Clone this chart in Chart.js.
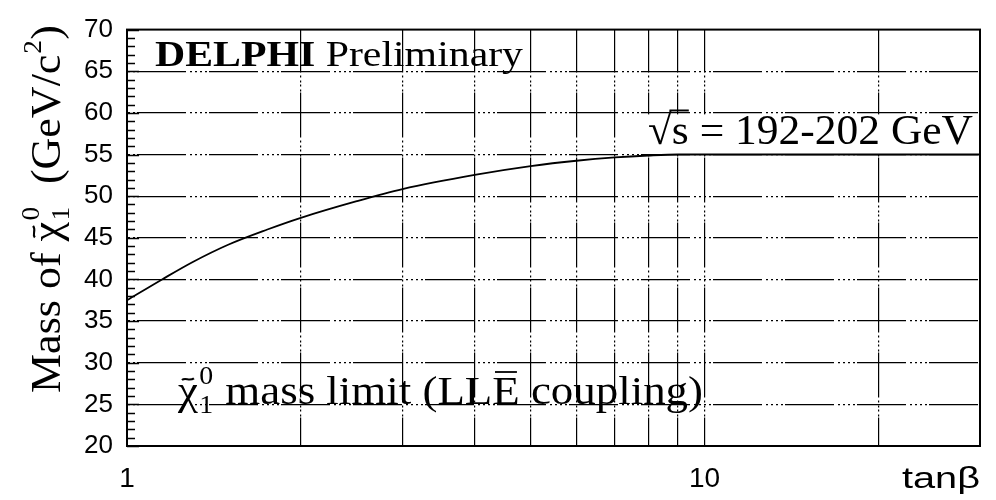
<!DOCTYPE html>
<html>
<head>
<meta charset="utf-8">
<script src="https://cdn.jsdelivr.net/npm/chart.js@4/dist/chart.umd.min.js"></script>
<style>
  html, body { margin: 0; padding: 0; background: #fff; }
  #wrap { width: 996px; height: 500px; }
</style>
</head>
<body>
<div id="wrap"><canvas id="c" width="996" height="500"></canvas></div>
<script>
// Lower mass limit of the lightest neutralino versus tan(beta)
const tanBeta   = [1, 1.15, 1.3, 1.5, 1.75, 2, 2.5, 3, 4, 5, 6, 7, 8, 9, 10, 20, 30];
const massLimit = [37.5, 40.0, 42.1, 44.2, 46.0, 47.4, 49.4, 50.85, 52.55, 53.6, 54.25, 54.65, 54.88, 55, 55, 55, 55];

// Axis ticks
const xTickValues = [1, 2, 3, 4, 5, 6, 7, 8, 9, 10, 20, 30];
const xTickLabels = ['1', '', '', '', '', '', '', '', '', '10', '', ''];
const yRange = [20, 70];
const yMajorStep = 5;
const yMinorStep = 1;

const SERIF = '"Liberation Serif", "Times New Roman", serif';
const SANS = '"Liberation Sans", Arial, sans-serif';

// dash-dot-dot-dot grid style
const H_DASH = [49, 4, 2, 3, 2, 3, 2, 3, 2, 2];
const V_DASH = [45, 3, 2, 3, 2, 2, 2, 3, 2, 1];

const CLEAR = 'rgba(0,0,0,0)';

// ---- small rich-text helper (sub/superscripts, tilde, bars, root) ----
function font(size, bold) { return (bold ? 'bold ' : '') + size + 'px ' + SERIF; }

function pieceWidth(ctx, p, size) {
  if (p.chi) {
    ctx.font = font(size);
    const wc = ctx.measureText('\u03c7').width;
    ctx.font = font(size * 0.62);
    const ws = Math.max(ctx.measureText(p.sup).width, ctx.measureText(p.sub).width);
    return wc + ws + size * 0.05;
  }
  if (p.sup) {
    ctx.font = font(size * 0.62);
    return ctx.measureText(p.sup).width + size * 0.03;
  }
  if (p.root) {
    ctx.font = font(size);
    return ctx.measureText('\u221a').width + ctx.measureText(p.root).width;
  }
  ctx.font = font(size, p.bold);
  return ctx.measureText(p.t).width;
}

function drawPiece(ctx, p, x, y, size) {
  ctx.textBaseline = 'alphabetic';
  ctx.textAlign = 'left';
  if (p.chi) {
    ctx.font = font(size);
    const wc = ctx.measureText('\u03c7').width;
    ctx.fillText('\u03c7', x, y);
    // tilde above chi
    ctx.save();
    ctx.lineWidth = size * 0.05;
    ctx.beginPath();
    const tx = x + wc * 0.2, tw = wc * 0.6, ty = y - size * 0.62;
    ctx.moveTo(tx, ty + size * 0.02);
    ctx.bezierCurveTo(tx + tw * 0.3, ty - size * 0.05, tx + tw * 0.6, ty + size * 0.06, tx + tw, ty - size * 0.02);
    ctx.stroke();
    ctx.restore();
    ctx.font = font(size * 0.62);
    ctx.fillText(p.sup, x + wc + size * 0.03, y - size * 0.5);
    ctx.fillText(p.sub, x + wc + size * 0.03, y + size * 0.22);
    return;
  }
  if (p.sup) {
    ctx.font = font(size * 0.62);
    ctx.fillText(p.sup, x + size * 0.02, y - size * 0.45);
    return;
  }
  if (p.root) {
    ctx.font = font(size);
    const wr = ctx.measureText('\u221a').width;
    const ws = ctx.measureText(p.root).width;
    ctx.fillText('\u221a', x, y);
    ctx.fillText(p.root, x + wr, y);
    ctx.save();
    ctx.lineWidth = size * 0.045;
    ctx.beginPath();
    ctx.moveTo(x + wr * 0.9, y - size * 0.78);
    ctx.lineTo(x + wr + ws, y - size * 0.78);
    ctx.stroke();
    ctx.restore();
    return;
  }
  ctx.font = font(size, p.bold);
  ctx.fillText(p.t, x, y);
  if (p.bar) {
    const w = ctx.measureText(p.t).width;
    ctx.save();
    ctx.lineWidth = size * 0.045;
    ctx.beginPath();
    ctx.moveTo(x + w * 0.1, y - size * 0.8);
    ctx.lineTo(x + w * 0.9, y - size * 0.8);
    ctx.stroke();
    ctx.restore();
  }
}

// draws the pieces starting at (x, y) and squeezes/stretches them to span `width`
function drawRich(ctx, pieces, x, y, size, width, angle) {
  let natural = 0;
  pieces.forEach(p => { natural += pieceWidth(ctx, p, size); });
  ctx.save();
  ctx.fillStyle = '#000';
  ctx.strokeStyle = '#000';
  ctx.translate(x, y);
  if (angle) ctx.rotate(angle);
  ctx.scale(width / natural, 1);
  let cx = 0;
  pieces.forEach(p => { drawPiece(ctx, p, cx, 0, size); cx += pieceWidth(ctx, p, size); });
  ctx.restore();
}

const annotations = {
  id: 'annotations',
  beforeDatasetsDraw(chart) {
    const { ctx, chartArea: a, scales: { y } } = chart;
    // white panel behind the energy label
    const top = y.getPixelForValue(60) + 1.5;
    const bottom = y.getPixelForValue(55) - 1.5;
    ctx.save();
    ctx.fillStyle = '#fff';
    ctx.fillRect(646, top, a.right - 646, bottom - top);
    ctx.restore();
  },
  afterDatasetsDraw(chart) {
    const { ctx, chartArea: a, scales: { y } } = chart;
    ctx.save();
    ctx.strokeStyle = '#000';
    // inner minor ticks on the mass axis
    ctx.lineWidth = 1.5;
    ctx.beginPath();
    y.ticks.forEach(t => {
      const py = Math.round(y.getPixelForValue(t.value)) + 0.5;
      const len = (t.value % yMajorStep === 0) ? 12 : 8;
      ctx.moveTo(a.left, py);
      ctx.lineTo(a.left + len, py);
    });
    ctx.stroke();
    // frame
    ctx.lineWidth = 2;
    ctx.strokeRect(a.left, a.top, a.right - a.left, a.bottom - a.top);
    ctx.restore();
  },
  afterDraw(chart) {
    const { ctx } = chart;
    drawRich(ctx, [{ t: 'DELPHI', bold: true }, { t: ' Preliminary' }], 155, 66, 36, 368);
    drawRich(ctx, [{ root: 's' }, { t: ' = 192-202 GeV' }], 648, 144, 43, 325);
    drawRich(ctx, [{ chi: true, sup: '0', sub: '1' }, { t: ' mass limit (LL' }, { t: 'E', bar: true }, { t: ' coupling)' }], 178, 404, 40, 525);
    drawRich(ctx, [{ t: 'Mass of ' }, { chi: true, sup: '0', sub: '1' }, { t: '  (GeV/c' }, { sup: '2' }, { t: ')' }], 60, 393, 42, 368, -Math.PI / 2);
    // x-axis title
    ctx.save();
    ctx.fillStyle = '#000';
    ctx.font = '30px ' + SANS;
    ctx.textBaseline = 'alphabetic';
    const w = ctx.measureText('tan\u03b2').width;
    ctx.translate(902, 488);
    ctx.scale(78 / w, 1);
    ctx.fillText('tan\u03b2', 0, 0);
    ctx.restore();
  }
};

new Chart(document.getElementById('c'), {
  type: 'line',
  data: {
    datasets: [{
      data: tanBeta.map((x, i) => ({ x: x, y: massLimit[i] })),
      borderColor: '#000',
      borderWidth: 1.8,
      pointRadius: 0,
      fill: false,
      cubicInterpolationMode: 'monotone'
    }]
  },
  options: {
    responsive: false,
    animation: false,
    devicePixelRatio: 1,
    layout: { padding: { left: 0, right: 15, top: 20, bottom: 0 } },
    plugins: { legend: { display: false }, tooltip: { enabled: false } },
    scales: {
      x: {
        type: 'logarithmic',
        position: 'bottom',
        min: 1,
        max: 30,
        afterBuildTicks: s => { s.ticks = xTickValues.map(v => ({ value: v })); },
        afterFit: s => { s.height = 54; },
        ticks: {
          autoSkip: false,
          maxRotation: 0,
          padding: 16,
          color: '#000',
          font: { family: SANS, size: 28 },
          callback: v => xTickLabels[xTickValues.indexOf(v)] || ''
        },
        grid: {
          drawTicks: false,
          lineWidth: 1.2,
          color: c => (c.tick && (c.tick.value === 1 || c.tick.value === 30)) ? CLEAR : '#000'
        },
        border: { display: true, color: '#000', width: 2, dash: V_DASH, dashOffset: 2 }
      },
      y: {
        min: yRange[0],
        max: yRange[1],
        afterFit: s => { s.width = 127; },
        ticks: {
          stepSize: yMinorStep,
          autoSkip: false,
          padding: 14,
          color: '#000',
          font: { family: SANS, size: 26 },
          callback: v => (v % yMajorStep === 0) ? String(v) : ''
        },
        grid: {
          drawTicks: false,
          lineWidth: 1.2,
          color: c => {
            const v = c.tick ? c.tick.value : NaN;
            return (v % yMajorStep === 0 && v !== yRange[0] && v !== yRange[1]) ? '#000' : CLEAR;
          }
        },
        border: { display: true, color: '#000', width: 2, dash: H_DASH, dashOffset: 63 }
      }
    }
  },
  plugins: [annotations]
});
</script>
</body>
</html>
